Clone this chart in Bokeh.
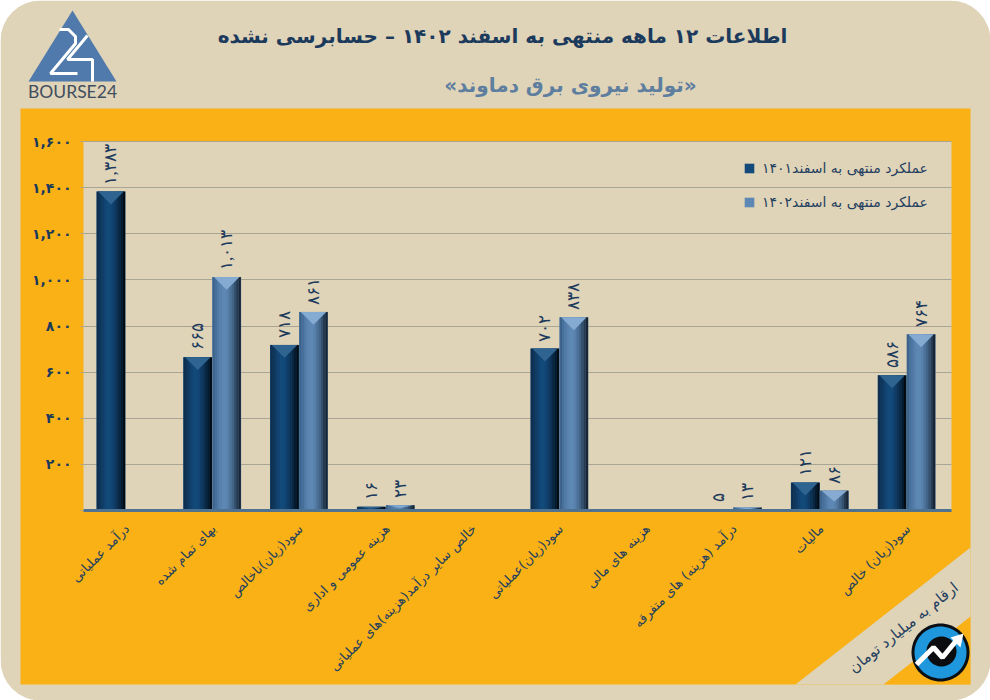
import numpy as np
from bokeh.plotting import figure
from bokeh.embed import file_html
from bokeh.resources import INLINE
from bokeh.models import (ColumnDataSource, BoxAnnotation, PolyAnnotation, Label, LabelSet,
                          Legend, LegendItem, FixedTicker, Range1d)

categories = ["درآمد عملیاتی", "بهای تمام شده", "سود(زیان)ناخالص", "هزینه عمومی و اداری",
              "خالص سایر درآمد(هزینه)های عملیاتی", "سود(زیان)عملیاتی", "هزینه های مالی",
              "درآمد (هزینه) های متفرقه", "مالیات", "سود(زیان) خالص"]
series_1401 = [1383, 665, 718, 16, None, 702, None, 5, 121, 586]
series_1402 = [None, 1013, 861, 23, None, 838, None, 13, 86, 764]
labels_1401 = ["۱,۳۸۳", "۶۶۵", "۷۱۸", "۱۶", "", "۷۰۲", "", "۵", "۱۲۱", "۵۸۶"]
labels_1402 = ["", "۱,۰۱۳", "۸۶۱", "۲۳", "", "۸۳۸", "", "۱۳", "۸۶", "۷۶۴"]
y_ticks = [0, 200, 400, 600, 800, 1000, 1200, 1400, 1600]
y_tick_labels = ["", "۲۰۰", "۴۰۰", "۶۰۰", "۸۰۰", "۱,۰۰۰", "۱,۲۰۰", "۱,۴۰۰", "۱,۶۰۰"]
legend_labels = ["عملکرد منتهی به اسفند۱۴۰۱", "عملکرد منتهی به اسفند۱۴۰۲"]
title_text = "اطلاعات ۱۲ ماهه منتهی به اسفند ۱۴۰۲ – حسابرسی نشده"
subtitle_text = "«تولید نیروی برق دماوند»"
unit_text = "ارقام به میلیارد تومان"
logo_text = "BOURSE24"

TAN = "#DFD3B8"
ORANGE = "#F9B115"
NAVY = "#1B3A5C"
W, H = 990, 700

# the frame fills the page; the plotting area is placed through the ranges
FL, FR, FT, FB = 83, 951, 141, 510
kx = (FR - FL) / 10
ky = (FB - FT) / 1600
p = figure(width=W, height=H, output_backend="svg", toolbar_location=None,
           x_range=Range1d(-FL / kx, (W - FL) / kx),
           y_range=Range1d(-(H - FB) / ky, FB / ky),
           min_border=0, min_border_left=0, min_border_right=0,
           min_border_top=0, min_border_bottom=0,
           background_fill_color="white", border_fill_color="white")
p.outline_line_color = None
p.xgrid.visible = False
p.ygrid.grid_line_color = "#A9A493"
p.ygrid.grid_line_width = 1
p.ygrid.level = "underlay"
p.ygrid.cross_bounds = (0, 10)


# "screen" units count from the frame's lower-left corner, y upward
def sx(v):
    return float(v)


def sy(v):
    return H - float(v)


def box(l, r, t, b, color, radius=0):
    p.add_layout(BoxAnnotation(left=sx(l), right=sx(r), top=sy(t), bottom=sy(b),
                               left_units="screen", right_units="screen",
                               top_units="screen", bottom_units="screen",
                               fill_color=color, fill_alpha=1, line_color=None,
                               border_radius=radius, level="image"))


def poly(pts, color, line=None, lw=1, alpha=1.0):
    p.add_layout(PolyAnnotation(xs=[sx(a) for a, _ in pts], ys=[sy(b) for _, b in pts],
                                xs_units="screen", ys_units="screen",
                                fill_color=color, fill_alpha=alpha,
                                line_color=line, line_width=lw, line_alpha=1.0,
                                level="image"))


def stroke(pts, color, lw):
    poly(pts + pts[-2:0:-1], color, line=color, lw=lw, alpha=0.0)


def disc(x0, y0, r, color):
    t = np.linspace(0, 2 * np.pi, 72, endpoint=False)
    poly(list(zip(x0 + r * np.cos(t), y0 + r * np.sin(t))), color)


def text(x, y, s, size, color, bold=False, angle=0, font="DejaVu Sans", align="center"):
    p.add_layout(Label(x=sx(x), y=sy(y), x_units="screen", y_units="screen", text=s,
                       text_font=font, text_font_size=f"{size}px", text_color=color,
                       text_font_style="bold" if bold else "normal",
                       text_align=align, text_baseline="middle",
                       angle=angle, angle_units="deg"))


# page panels
box(0, W, 0, H, TAN, 40)
box(20, 970, 108, 684, ORANGE)
box(FL, FR, FT, FB, TAN)
poly([(795, 684), (970, 547), (970, 684)], TAN)
poly([(883, 684), (970, 616), (970, 684)], ORANGE)

# logo
poly([(72, 10), (116, 81), (28, 81)], "#4F7AAB")
stroke([(59, 29), (68, 29), (75, 36), (75, 43), (50, 73), (77, 73)], "white", 3)
stroke([(87, 35), (67, 59), (92, 59), (92, 81)], "white", 3)
text(72, 91, logo_text, 17.5, "#3F4E5E", font="Lato")

# icon
disc(940, 652, 29, "#0B0F14")
disc(940, 652, 26, "#1E97DC")
disc(941, 651, 15, "#0A0C10")
stroke([(916, 664), (933, 647), (942, 657), (955, 641)], "white", 5)
poly([(950, 637), (963, 633), (960, 647)], "white")

# titles
text(502, 35, title_text, 20, NAVY, bold=True)
text(570, 84, subtitle_text, 20, "#5E7E9F", bold=True)
text(903, 627, unit_text, 15, "#24405F", angle=38.5)

# bars
x_idx = np.arange(len(categories), dtype=float)
bar_w = 1 / 3
shift = -0.017
palettes = [
    ["#0E2F50", "#0F3559", "#103C65", "#114472", "#124A7A", "#124A7A", "#114472", "#0F3B64", "#0D3254", "#0A2742", "#061A2D", "#030B13"],
    ["#3D638A", "#466F99", "#507AA5", "#5982AE", "#5E88B4", "#5E88B4", "#5880AA", "#4E739A", "#426486", "#34506D", "#253A50", "#182532"],
]
bevels = ["#2F6491", "#86ABD2"]
bases = []


def nums(values):
    return np.array([np.nan if v is None else float(v) for v in values])


def draw_series(values, offset, colors, bevel):
    vals = nums(values)
    left = x_idx + 0.5 + offset + shift
    base = p.quad(left=left, right=left + bar_w, top=vals, bottom=0,
                  fill_color=colors[4], line_color=None)
    n = len(colors)
    for i, col in enumerate(colors):
        l = left + bar_w * (0.01 + 0.98 * i / n)
        r = left + bar_w * (0.01 + 0.98 * (i + 1) / n)
        p.quad(left=l, right=r, top=vals, bottom=0, fill_color=col, line_color=None)
    xs, ys = [], []
    for lf, v in zip(left, vals):
        if np.isnan(v):
            continue
        d = min(56.0, v * 0.55)
        xs.append([lf + bar_w * 0.06, lf + bar_w * 0.94, lf + bar_w * 0.5])
        ys.append([v, v, v - d])
    p.patches(xs, ys, fill_color=bevel, line_color=None)
    return base


bases.append(draw_series(series_1401, -bar_w, palettes[0], bevels[0]))
bases.append(draw_series(series_1402, 0.0, palettes[1], bevels[1]))


def draw_labels(values, labels, offset):
    keep = [i for i, v in enumerate(values) if v is not None]
    src = ColumnDataSource(dict(
        x=[x_idx[i] + 0.5 + offset + shift + bar_w / 2 for i in keep],
        y=[values[i] for i in keep],
        t=[labels[i] for i in keep]))
    p.add_layout(LabelSet(x="x", y="y", text="t", source=src, angle=90, angle_units="deg",
                          text_align="left", text_baseline="middle", y_offset=7,
                          text_font="DejaVu Sans", text_font_size="17px", text_color=NAVY))


draw_labels(series_1401, labels_1401, -bar_w)
draw_labels(series_1402, labels_1402, 0.0)

# axes: pinned to the plotting area, they take no room of their own
p.yaxis.fixed_location = 0
p.xaxis.fixed_location = 0
p.yaxis.bounds = (0, 1600)
p.xaxis.bounds = (0, 10)
p.yaxis.ticker = FixedTicker(ticks=y_ticks)
p.yaxis.major_label_overrides = dict(zip(y_ticks, y_tick_labels))
p.yaxis.major_label_text_font = "DejaVu Sans"
p.yaxis.major_label_text_font_style = "bold"
p.yaxis.major_label_text_font_size = "14px"
p.yaxis.major_label_text_color = NAVY
p.yaxis.major_label_text_baseline = "alphabetic"
p.yaxis.axis_line_color = None
p.yaxis.major_tick_line_color = "#A9A493"
p.yaxis.major_tick_out = 3
p.yaxis.major_tick_in = 0
p.yaxis.minor_tick_line_color = None
p.yaxis.major_label_standoff = 9

tick_pos = list(x_idx + 0.5)
p.xaxis.ticker = FixedTicker(ticks=tick_pos)
p.xaxis.major_label_overrides = dict(zip(tick_pos, categories))
p.xaxis.major_label_orientation = np.pi / 4
p.xaxis.major_label_text_font = "DejaVu Sans"
p.xaxis.major_label_text_font_size = "13px"
p.xaxis.major_label_text_color = "#24405F"
p.xaxis.axis_line_color = "#4F7291"
p.xaxis.axis_line_width = 3
p.xaxis.major_tick_line_color = None
p.xaxis.minor_tick_line_color = None
p.xaxis.major_label_standoff = 10

# legend
legend = Legend(items=[LegendItem(label=legend_labels[0], renderers=[bases[0]]),
                       LegendItem(label=legend_labels[1], renderers=[bases[1]])],
                location=(743, 490), orientation="vertical",
                background_fill_alpha=0, border_line_color=None,
                glyph_width=12, glyph_height=12, label_standoff=7, spacing=18,
                label_text_font="DejaVu Sans", label_text_font_size="14px",
                label_text_color="#24405F", padding=0, margin=0)
p.add_layout(legend, "center")

open("out.html", "w").write(file_html(p, INLINE))
